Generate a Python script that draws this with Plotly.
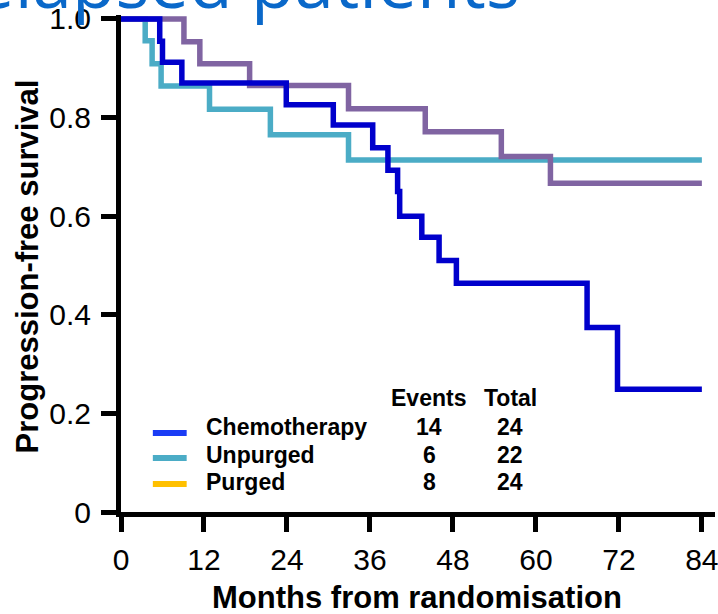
import plotly.graph_objects as go

# ---------------- data ----------------
chemo_t = [0, 5.6, 6.0, 8.8, 23.9, 30.7, 36.4, 38.6, 40.0, 40.3, 43.5, 46.0, 48.5, 67.4, 71.8, 84]
chemo_s = [1.0, 0.955, 0.912, 0.870, 0.826, 0.785, 0.739, 0.693, 0.650, 0.600, 0.557, 0.510, 0.464, 0.374, 0.249, 0.249]

unpurged_t = [0, 3.5, 4.5, 5.8, 12.8, 21.6, 32.9, 84]
unpurged_s = [1.0, 0.956, 0.909, 0.864, 0.817, 0.765, 0.714, 0.714]

purged_t = [0, 9.1, 11.4, 18.6, 32.9, 44.0, 55.0, 62.1, 84]
purged_s = [1.0, 0.954, 0.909, 0.865, 0.818, 0.771, 0.721, 0.667, 0.667]

group_names = ["Chemotherapy", "Unpurged", "Purged"]
group_events = [14, 6, 8]
group_totals = [24, 22, 24]
curve_colors = ["#0000CC", "#4BACC6", "#8064A2"]
legend_colors = ["#1A3CF5", "#4BACC6", "#FFC000"]

x_ticks = [0, 12, 24, 36, 48, 60, 72, 84]
y_ticks = [0, 0.2, 0.4, 0.6, 0.8, 1.0]
y_ticklabels = ["0", "0.2", "0.4", "0.6", "0.8", "1.0"]

title_text = "Relapsed patients"
x_title = "Months from randomisation"
y_title = "Progression-free survival"

# ---------------- layout geometry ----------------
W, H = 718, 614
L, T = 121, 15
PW = W - L
PH = 497
B = H - T - PH

def px2x(px):
    return (px - L) / PW

def py2y(py):
    return (T + PH - py) / PH

fig = go.Figure()

series = [(chemo_t, chemo_s), (unpurged_t, unpurged_s), (purged_t, purged_s)]
order = [1, 2, 0]
for i in order:
    t, s = series[i]
    fig.add_trace(go.Scatter(
        x=t, y=s, mode="lines", line_shape="hv",
        line=dict(color=curve_colors[i], width=5.5),
        name=group_names[i], showlegend=False, hoverinfo="skip"))

axis_font = dict(family="Liberation Sans, Arial, sans-serif", size=30, color="black")
bold_font = dict(family="Liberation Sans, Arial, sans-serif", size=31, color="black")
leg_font = dict(family="Liberation Sans, Arial, sans-serif", size=23, color="black")

fig.update_layout(
    width=W, height=H,
    margin=dict(l=L, r=0, t=T, b=B, pad=0),
    paper_bgcolor="white", plot_bgcolor="white",
    showlegend=False,
    xaxis=dict(range=[0, PW / 6.95], tickvals=x_ticks, ticktext=[str(v) for v in x_ticks],
               showgrid=False, zeroline=False, showline=True, linecolor="black", linewidth=5,
               ticks="outside", ticklen=15, tickwidth=5, tickcolor="black",
               tickfont=axis_font, ticklabelstandoff=2, ticklabeloverflow="allow"),
    yaxis=dict(range=[0, 1.008], tickvals=y_ticks, ticktext=y_ticklabels,
               showgrid=False, zeroline=False, showline=True, linecolor="black", linewidth=5,
               ticks="outside", ticklen=15, tickwidth=5, tickcolor="black",
               tickfont=axis_font, ticklabelstandoff=4, ticklabeloverflow="allow"),
)

ann = []
# chart title (cropped at the top-left as in the reference)
ann.append(dict(text=title_text, xref="paper", yref="paper", x=px2x(524), y=py2y(-20),
                xanchor="right", yanchor="middle", showarrow=False,
                font=dict(family="Open Sans, sans-serif", size=71, color="#0A68C9")))
# axis titles
ann.append(dict(text="<b>%s</b>" % x_title, xref="paper", yref="paper", x=px2x(418), y=py2y(597),
                xanchor="center", yanchor="middle", showarrow=False, font=bold_font))
ann.append(dict(text="<b>%s</b>" % y_title, xref="paper", yref="paper", x=px2x(27), y=py2y(266),
                xanchor="center", yanchor="middle", showarrow=False, textangle=-90, font=bold_font))

# legend table
ann.append(dict(text="<b>Events</b>", xref="paper", yref="paper", x=px2x(430), y=py2y(398),
                xanchor="center", yanchor="middle", showarrow=False, font=leg_font))
ann.append(dict(text="<b>Total</b>", xref="paper", yref="paper", x=px2x(512), y=py2y(398),
                xanchor="center", yanchor="middle", showarrow=False, font=leg_font))
row_y = [427, 455, 482]
swatch_y = [433, 458, 484]
shapes = []
for i in range(3):
    ann.append(dict(text="<b>%s</b>" % group_names[i], xref="paper", yref="paper",
                    x=px2x(204), y=py2y(row_y[i]), xanchor="left", yanchor="middle",
                    showarrow=False, font=leg_font))
    ann.append(dict(text="<b>%d</b>" % group_events[i], xref="paper", yref="paper",
                    x=px2x(431), y=py2y(row_y[i]), xanchor="center", yanchor="middle",
                    showarrow=False, font=leg_font))
    ann.append(dict(text="<b>%d</b>" % group_totals[i], xref="paper", yref="paper",
                    x=px2x(512), y=py2y(row_y[i]), xanchor="center", yanchor="middle",
                    showarrow=False, font=leg_font))
    shapes.append(dict(type="line", xref="paper", yref="paper",
                       x0=px2x(153), x1=px2x(187), y0=py2y(swatch_y[i]), y1=py2y(swatch_y[i]),
                       line=dict(color=legend_colors[i], width=6)))

fig.update_layout(annotations=ann, shapes=shapes)
fig.write_html("out.html")
